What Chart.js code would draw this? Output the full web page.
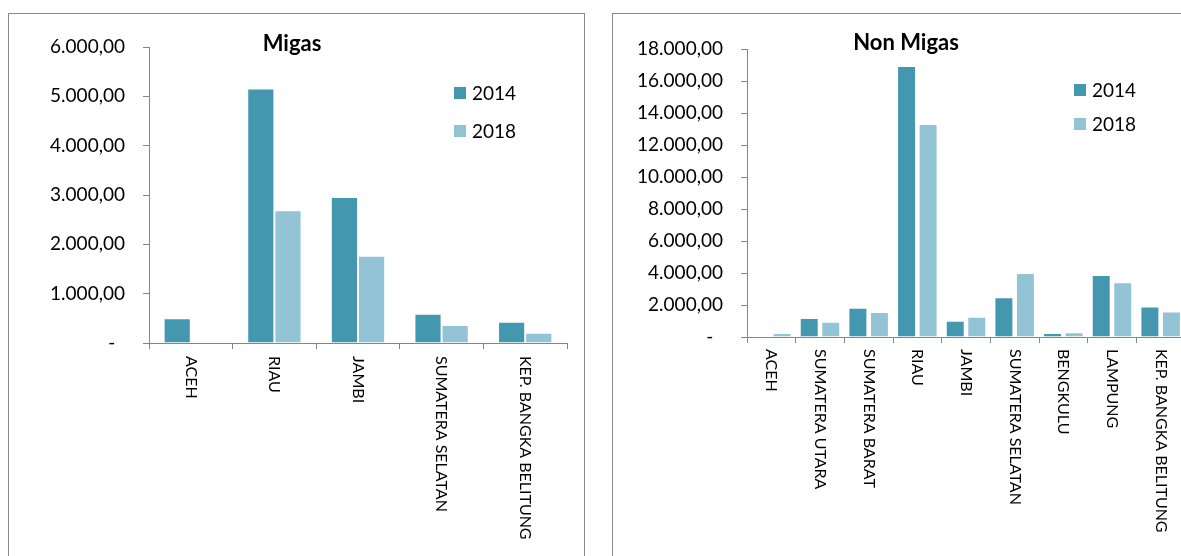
<!DOCTYPE html>
<html lang="id">
<head>
  <meta charset="UTF-8" />
  <title>Migas dan Non Migas</title>
  <script src="https://cdn.jsdelivr.net/npm/chart.js"></script>
  <style>
    html, body {
      margin: 0;
      padding: 0;
      background: #fff;
      overflow: hidden;
      width: 1181px;
      height: 556px;
    }
    .kotak {
      position: absolute;
      top: 13px;
      height: 600px;
      border: 1px solid #8a8a8a;
      background: #fff;
    }
    #kotakMigas { left: 8px; width: 575px; }
    #kotakNonMigas { left: 612px; width: 620px; }
    canvas { display: block; }
  </style>
</head>
<body>
  <div class="kotak" id="kotakMigas"><canvas id="grafikMigas" width="575" height="542"></canvas></div>
  <div class="kotak" id="kotakNonMigas"><canvas id="grafikNonMigas" width="600" height="542"></canvas></div>

  <script>
    // data
    const tahun = ['2014', '2018'];
    const warna = ['#4398b0', '#93c4d5'];

    const provMigas = ['ACEH', 'RIAU', 'JAMBI', 'SUMATERA SELATAN', 'KEP. BANGKA BELITUNG'];
    const migas2014 = [500, 5160, 2960, 595, 432];
    const migas2018 = [0, 2690, 1770, 365, 210];

    const provNonMigas = ['ACEH', 'SUMATERA UTARA', 'SUMATERA BARAT', 'RIAU', 'JAMBI',
      'SUMATERA SELATAN', 'BENGKULU', 'LAMPUNG', 'KEP. BANGKA BELITUNG'];
    const nonMigas2014 = [0, 1190, 1830, 16940, 1020, 2480, 250, 3875, 1900];
    const nonMigas2018 = [250, 960, 1560, 13310, 1270, 4000, 290, 3420, 1600];

    const FONT = 'Lato';
    const abu = '#868686';

    // format angka gaya Indonesia: 6.000,00 ; nol jadi "-"
    function formatAngka(v) {
      if (v === 0) return '-  ';
      return String(v).replace(/\B(?=(\d{3})+(?!\d))/g, '.') + ',00';
    }

    // judul, legenda dan label vertikal sumbu x
    const hiasan = {
      id: 'hiasan',
      afterDraw(chart, args, opt) {
        const ctx = chart.ctx;
        const sx = chart.scales.x;
        ctx.save();
        ctx.fillStyle = '#000';

        // label kategori, dibaca dari atas ke bawah
        ctx.font = '16px ' + FONT;
        ctx.textAlign = 'left';
        ctx.textBaseline = 'middle';
        chart.data.labels.forEach((lab, i) => {
          ctx.save();
          ctx.translate(sx.getPixelForValue(i), sx.top + opt.jarakLabel);
          ctx.rotate(Math.PI / 2);
          ctx.fillText(lab, 0, 0);
          ctx.restore();
        });

        // judul
        ctx.font = 'bold 22px ' + FONT;
        ctx.textAlign = 'center';
        ctx.textBaseline = 'alphabetic';
        ctx.fillText(opt.judul, opt.judulX, opt.judulY);

        // legenda
        ctx.font = '19px ' + FONT;
        ctx.textAlign = 'left';
        chart.data.datasets.forEach((ds, i) => {
          const y = opt.legY + i * opt.legJarak;
          ctx.fillStyle = ds.backgroundColor;
          ctx.fillRect(opt.legX, y, 12, 12);
          ctx.fillStyle = '#000';
          ctx.fillText(ds.label, opt.legX + 18, y + 12.5);
        });
        ctx.restore();
      }
    };

    function buatGrafik(id, labels, d2014, d2018, cfg) {
      new Chart(document.getElementById(id), {
        type: 'bar',
        data: {
          labels: labels,
          datasets: [
            { label: tahun[0], data: d2014, backgroundColor: warna[0], borderColor: 'rgba(255,255,255,0.5)', borderWidth: 1 },
            { label: tahun[1], data: d2018, backgroundColor: warna[1], borderColor: 'rgba(255,255,255,0.5)', borderWidth: 1 }
          ]
        },
        options: {
          responsive: false,
          animation: false,
          categoryPercentage: cfg.catPct,
          barPercentage: cfg.barPct,
          layout: { padding: { top: cfg.atas, right: cfg.kanan, left: 0, bottom: 0 } },
          plugins: {
            legend: { display: false },
            tooltip: { enabled: false },
            hiasan: cfg.hiasan
          },
          scales: {
            x: {
              grid: { offset: true, drawOnChartArea: false, drawTicks: true, tickLength: 6, color: abu },
              border: { display: true, color: abu, width: 1 },
              ticks: { display: false },
              afterFit: s => { s.height = cfg.tinggiX; }
            },
            y: {
              min: 0,
              max: cfg.maks,
              ticks: {
                stepSize: cfg.langkah,
                padding: 18,
                color: '#000',
                font: { family: FONT, size: 19 },
                callback: v => formatAngka(v)
              },
              grid: { drawOnChartArea: false, drawTicks: true, tickLength: 6, color: abu },
              border: { display: true, color: abu, width: 1 },
              afterFit: s => { s.width = cfg.lebarY; }
            }
          }
        },
        plugins: [hiasan]
      });
    }

    buatGrafik('grafikMigas', provMigas, migas2014, migas2018, {
      catPct: 0.65, barPct: 1.0,
      atas: 33, kanan: 17, tinggiX: 213, lebarY: 140,
      maks: 6000, langkah: 1000,
      hiasan: { judul: 'Migas', judulX: 283, judulY: 37, legX: 445, legY: 73, legJarak: 38, jarakLabel: 13 }
    });

    buatGrafik('grafikNonMigas', provNonMigas, nonMigas2014, nonMigas2018, {
      catPct: 0.885, barPct: 0.88,
      atas: 35, kanan: 28, tinggiX: 219, lebarY: 134,
      maks: 18000, langkah: 2000,
      hiasan: { judul: 'Non Migas', judulX: 293, judulY: 36, legX: 461, legY: 70, legJarak: 34, jarakLabel: 12 }
    });
  </script>
</body>
</html>
